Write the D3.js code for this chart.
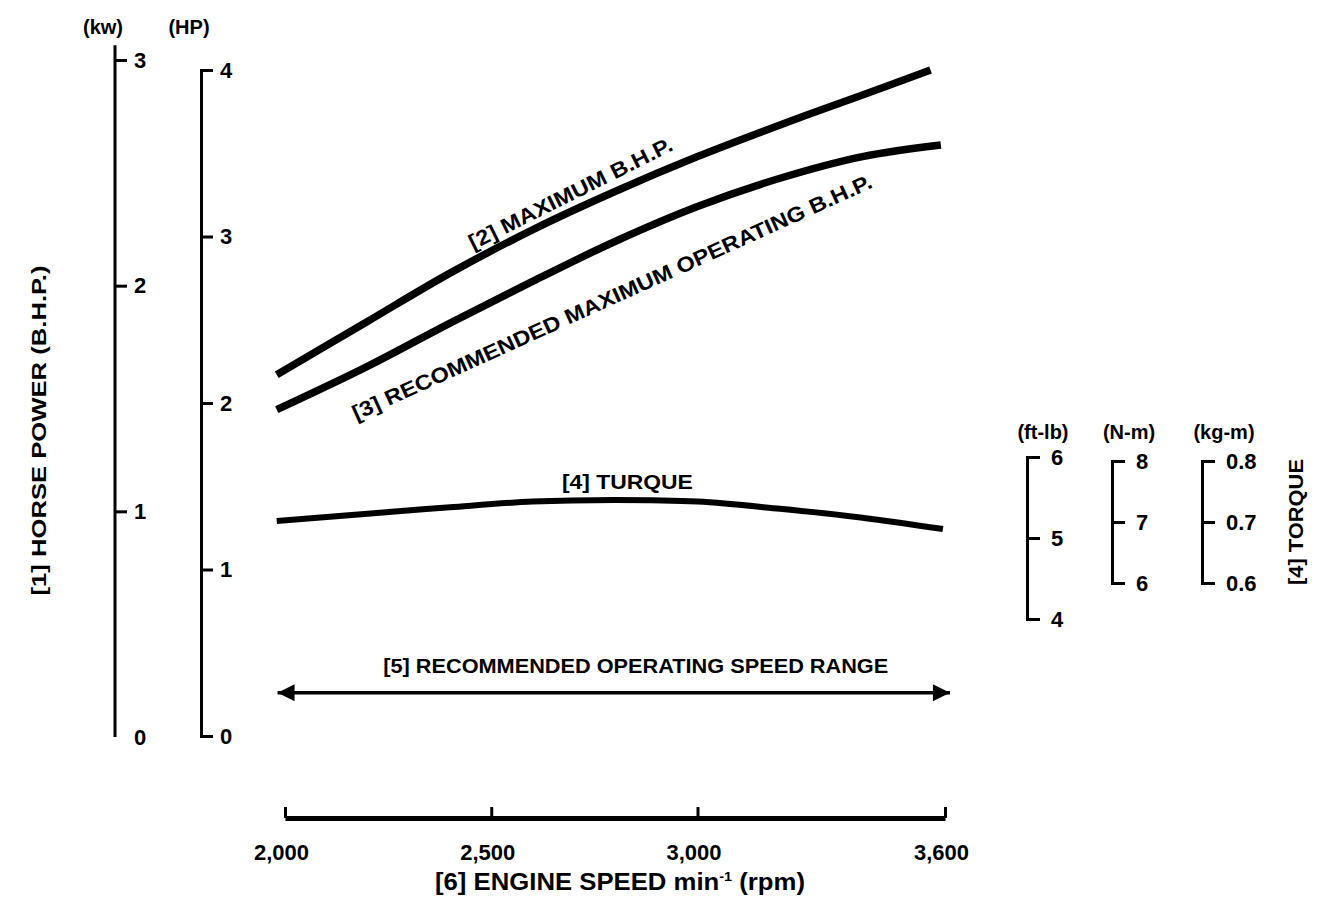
<!DOCTYPE html>
<html>
<head>
<meta charset="utf-8">
<script src="https://cdn.jsdelivr.net/npm/d3@7"></script>
<style>
  html, body { margin: 0; padding: 0; background: #fff; }
  svg { display: block; }
  text { font-family: "Liberation Sans", Arial, Helvetica, sans-serif; font-weight: bold; fill: #000; }
</style>
</head>
<body>
<svg id="chart" width="1317" height="908"></svg>
<script>
// ---------- DATA ----------
const rpmTicks = [2000, 2500, 3000, 3600];
const rpmTickLabels = ["2,000", "2,500", "3,000", "3,600"];
const hpTicks = [0, 1, 2, 3, 4];
const kwTicks = [0, 1, 2, 3];
const ftlbTicks = [4, 5, 6];
const nmTicks = [6, 7, 8];
const kgmTicks = [0.6, 0.7, 0.8];

// Maximum B.H.P. (HP)
const maxBhpRpm = [1980, 2200, 2400, 2600, 2800, 3000, 3200, 3400, 3565];
const maxBhpHp  = [2.17, 2.49, 2.78, 3.04, 3.27, 3.48, 3.67, 3.85, 4.00];
// Recommended maximum operating B.H.P. (HP)
const recBhpRpm = [1980, 2200, 2400, 2600, 2800, 3000, 3200, 3400, 3590];
const recBhpHp  = [1.96, 2.22, 2.48, 2.73, 2.97, 3.18, 3.35, 3.48, 3.55];
// Torque (ft-lb)
const torqueRpm  = [1980, 2200, 2400, 2600, 2800, 3000, 3200, 3400, 3595];
const torqueFtlb = [5.21, 5.30, 5.38, 5.45, 5.47, 5.45, 5.36, 5.25, 5.11];
// Recommended operating speed range (arrow ends, rpm)
const speedRange = [1982, 3612];

// ---------- SCALES ----------
const svg = d3.select("#chart");
const x = d3.scaleLinear().domain([2000, 3600]).range([285, 945]);
const hp = d3.scaleLinear().domain([0, 4]).range([736, 70]);
const kw = d3.scaleLinear().domain([0, 3]).range([737, 60]);
const ftlb = d3.scaleLinear().domain([4, 6]).range([619, 457]);
const nm = d3.scaleLinear().domain([6, 8]).range([583, 461]);
const kgm = d3.scaleLinear().domain([0.6, 0.8]).range([583, 461]);

const FS = 22;

function styleAxis(g, fs) {
  g.attr("font-size", null).attr("font-family", null);
  g.selectAll("path.domain").attr("stroke", "#000").attr("stroke-width", 3).attr("fill", "none");
  g.selectAll(".tick line").attr("stroke", "#000").attr("stroke-width", 3);
  g.selectAll(".tick text").style("font-size", (fs || FS) + "px")
    .style("font-family", '"Liberation Sans", Arial, sans-serif').style("font-weight", "bold");
}

// ---------- kW axis ----------
const gkw = svg.append("g").attr("transform", "translate(115,0)")
  .call(d3.axisRight(kw).tickValues(kwTicks).tickSize(12).tickSizeOuter(0).tickPadding(7).tickFormat(d3.format("d")));
gkw.select("path.domain").remove();
gkw.append("line").attr("x1", 0).attr("x2", 0).attr("y1", kw(3.065)).attr("y2", kw(0))
  .attr("stroke", "#000").attr("stroke-width", 3);
styleAxis(gkw);
gkw.selectAll(".tick").filter(d => d === 0).select("line").remove();
svg.append("text").attr("x", 103).attr("y", 34).attr("text-anchor", "middle")
  .style("font-size", "20px").text("(kw)");

// ---------- HP axis ----------
const ghp = svg.append("g").attr("transform", "translate(201,0)")
  .call(d3.axisRight(hp).tickValues(hpTicks).tickSize(12).tickSizeOuter(12).tickPadding(7).tickFormat(d3.format("d")));
styleAxis(ghp);
svg.append("text").attr("x", 189).attr("y", 34).attr("text-anchor", "middle")
  .style("font-size", "20px").text("(HP)");

// left vertical title
svg.append("text").attr("transform", `translate(46,${(kw(0) + kw(3)) / 2 + 32}) rotate(-90)`)
  .attr("text-anchor", "middle").style("font-size", "21px")
  .attr("textLength", 330).attr("lengthAdjust", "spacingAndGlyphs")
  .text("[1] HORSE POWER (B.H.P.)");

// ---------- Torque axes ----------
function torqueAxis(scale, ticks, xpos, fmt, unit, unitX) {
  const g = svg.append("g").attr("transform", `translate(${xpos},0)`)
    .call(d3.axisRight(scale).tickValues(ticks).tickSize(13).tickSizeOuter(13).tickPadding(11).tickFormat(fmt));
  styleAxis(g);
  svg.append("text").attr("x", unitX).attr("y", 439).attr("text-anchor", "middle")
    .style("font-size", "20px").text(unit);
}
torqueAxis(ftlb, ftlbTicks, 1027, d3.format("d"), "(ft-lb)", 1043);
torqueAxis(nm, nmTicks, 1112, d3.format("d"), "(N-m)", 1129);
torqueAxis(kgm, kgmTicks, 1202, d3.format(".1f"), "(kg-m)", 1224);
svg.append("text").attr("transform", `translate(1303,${nm(7)}) rotate(-90)`)
  .attr("text-anchor", "middle").style("font-size", "21px")
  .attr("textLength", 126).attr("lengthAdjust", "spacingAndGlyphs")
  .text("[4] TORQUE");

// ---------- X axis ----------
const gx = svg.append("g").attr("transform", "translate(0,818)")
  .call(d3.axisBottom(x).tickValues(rpmTicks).tickSize(-11).tickSizeOuter(0).tickPadding(26)
    .tickFormat((d, i) => rpmTickLabels[i]));
styleAxis(gx);
gx.select("path.domain").attr("stroke-width", 5);
gx.selectAll(".tick text").attr("dx", -4);
const xt = svg.append("text").attr("x", 620).attr("y", 890)
  .attr("text-anchor", "middle").style("font-size", "23px")
  .attr("textLength", 370).attr("lengthAdjust", "spacingAndGlyphs");
xt.append("tspan").text("[6] ENGINE SPEED min");
xt.append("tspan").attr("dy", -9).style("font-size", "13px").text("-1");
xt.append("tspan").attr("dy", 9).text(" (rpm)");

// ---------- Curves ----------
const line = d3.line().curve(d3.curveCatmullRom.alpha(0.5));
const maxPts = maxBhpRpm.map((r, i) => [x(r), hp(maxBhpHp[i])]);
const recPts = recBhpRpm.map((r, i) => [x(r), hp(recBhpHp[i])]);
const torPts = torqueRpm.map((r, i) => [x(r), ftlb(torqueFtlb[i])]);

svg.append("path").attr("d", line(maxPts)).attr("fill", "none").attr("stroke", "#000").attr("stroke-width", 7.5);
svg.append("path").attr("d", line(recPts)).attr("fill", "none").attr("stroke", "#000").attr("stroke-width", 7.5);
svg.append("path").attr("d", line(torPts)).attr("fill", "none").attr("stroke", "#000").attr("stroke-width", 6);

// curve labels
svg.append("text").attr("transform", `translate(${x(2700)},${hp(3.16) - 10}) rotate(-26.5)`)
  .attr("text-anchor", "middle").style("font-size", "21px")
  .attr("textLength", 225).attr("lengthAdjust", "spacingAndGlyphs")
  .text("[2] MAXIMUM B.H.P.");
svg.append("text").attr("transform", `translate(${x(2800)},${hp(2.98) + 64}) rotate(-24.3)`)
  .attr("text-anchor", "middle").style("font-size", "21px")
  .attr("textLength", 568).attr("lengthAdjust", "spacingAndGlyphs")
  .text("[3] RECOMMENDED MAXIMUM OPERATING B.H.P.");
svg.append("text").attr("x", x(2830)).attr("y", ftlb(5.47) - 11)
  .attr("text-anchor", "middle").style("font-size", "21px")
  .attr("textLength", 131).attr("lengthAdjust", "spacingAndGlyphs")
  .text("[4] TURQUE");

// ---------- Speed range arrow ----------
const defs = svg.append("defs");
defs.append("marker").attr("id", "ah").attr("viewBox", "0 0 10 10")
  .attr("refX", 10).attr("refY", 5).attr("markerUnits", "userSpaceOnUse")
  .attr("markerWidth", 26).attr("markerHeight", 17).attr("orient", "auto-start-reverse")
  .append("path").attr("d", "M0,0 L10,5 L0,10 Z").attr("fill", "#000");
const ay = hp(0.26);
svg.append("line").attr("x1", x(speedRange[0])).attr("x2", x(speedRange[1]))
  .attr("y1", ay).attr("y2", ay).attr("stroke", "#000").attr("stroke-width", 3.5)
  .attr("marker-start", "url(#ah)").attr("marker-end", "url(#ah)");
svg.append("text").attr("x", (x(speedRange[0]) + x(speedRange[1])) / 2 + 22).attr("y", ay - 20)
  .attr("text-anchor", "middle").style("font-size", "21px")
  .attr("textLength", 505).attr("lengthAdjust", "spacingAndGlyphs")
  .text("[5] RECOMMENDED OPERATING SPEED RANGE");
</script>
</body>
</html>
